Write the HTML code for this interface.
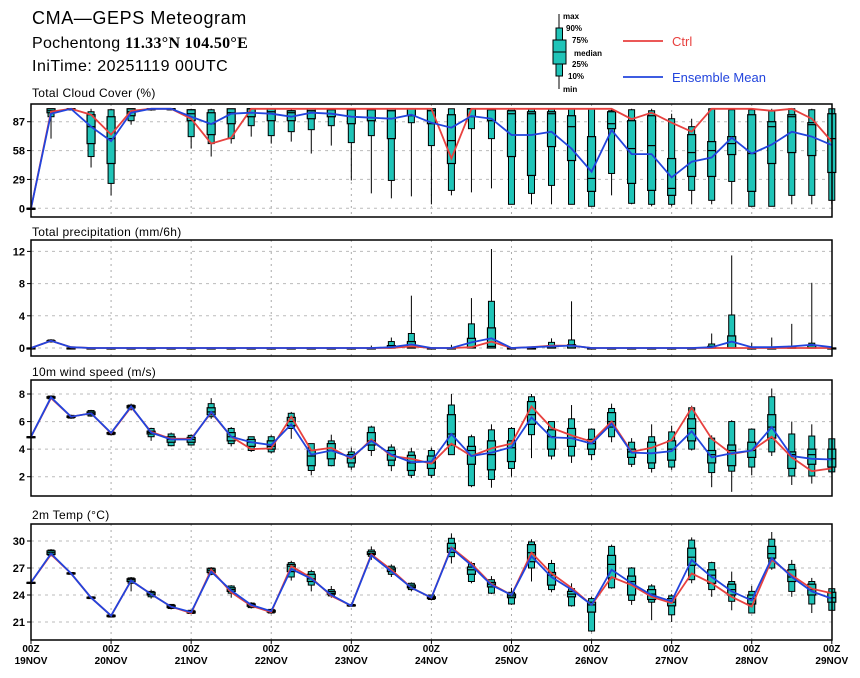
<!DOCTYPE html>
<html><head><meta charset="utf-8"><style>
html,body{margin:0;padding:0;background:#fff;}
svg{display:block;font-family:"Liberation Sans",sans-serif;}
</style></head><body>
<svg id="chart" width="860" height="678" viewBox="0 0 860 678">
<text x="32" y="24" font-size="18" letter-spacing="0.6">CMA—GEPS Meteogram</text>
<text x="32" y="48" font-size="16" letter-spacing="0.3">Pochentong <tspan font-weight="bold" font-family="Liberation Serif, serif">11.33°N 104.50°E</tspan></text>
<text x="32" y="71" font-size="16" letter-spacing="0.5">IniTime: 20251119 00UTC</text>
<g>
 <line x1="559" y1="14" x2="559" y2="89" stroke="#000" stroke-width="1"/>
 <rect x="556" y="28" width="6.5" height="48" fill="#20c4b8" stroke="#000"/>
 <rect x="553" y="40" width="13" height="24" fill="#20c4b8" stroke="#000"/>
 <line x1="553" y1="52" x2="566" y2="52" stroke="#000"/>
 <g font-size="8" font-weight="bold">
 <text x="563" y="19">max</text><text x="566" y="31">90%</text><text x="572" y="43">75%</text>
 <text x="574" y="56">median</text><text x="572" y="67">25%</text><text x="568" y="79">10%</text><text x="563" y="92">min</text>
 </g>
 <line x1="623" y1="41" x2="663" y2="41" stroke="#e8413f" stroke-width="1.8"/>
 <text x="672" y="46" font-size="13" fill="#e8413f">Ctrl</text>
 <line x1="623" y1="77" x2="663" y2="77" stroke="#2244dd" stroke-width="1.8"/>
 <text x="672" y="82" font-size="13" fill="#2244dd">Ensemble Mean</text>
</g>
</svg>
<script>
// ---------- data ----------
const dayLabels = ["19NOV","20NOV","21NOV","22NOV","23NOV","24NOV","25NOV","26NOV","27NOV","28NOV","29NOV"];

const cloudTicks = [0,29,58,87];
const cloudCtrl = [0,97,100,94,74,98,100,100,90,65,71,100,100,100,100,100,100,100,100,100,100,50,100,100,100,100,100,100,100,100,89.6,96,86,77,100,100,100,98,100,90,67];
const cloudMean = [0,95,100,82,67.5,96,100,100,92,84.6,95,96,95,92,96,95,92,91,90,94,86,81,92.7,90,73.6,73.6,77,60,36.8,78.6,54.5,54.5,31,46.8,51,70.9,55,64,77,72,63.5];
const cloudMin = [0,70,99,41,13,84,98,100,60,52,65,72,65,67,55,63,28,15,10,12,4,13,16,20,4,4,4,4,2,13,4,2,2,4,4,4,2,2,4,4,4];
const cloudQ10 = [0,92,100,52,25,88,100,100,72,65,70,83,73,77,79,83,66,73,28,86,63,18,80,70,4,15,23,4,2,35,5,4,4,18,8,27,2,2,13,13,8];
const cloudQ25 = [0,96,100,65,45,93,100,100,88,74,85,92,88,88,90,92,85,88,70,93,85,45,92,88,52,33,62,48,17,80,25,18,13,32,32,54,17,45,56,53,36];
const cloudMed = [0,98,100,82,70,97,100,100,95,85,96,100,97,96,98,99,99,99,98,100,98,68,100,99,95,95,95,82,30,85,60,63,20,56,58,65,55,82,92,84,70];
const cloudQ75 = [0,100,100,94,92,100,100,100,99,96,100,100,100,98,100,100,100,100,100,100,100,94,100,100,98,97,97,93,72,97,88,93,50,74,67,72,94,87,94,86,95];
const cloudQ90 = [0,100,100,97,99,100,100,100,99,99,99,99,99,98,99,99,99,99,99,99,99,100,100,100,100,100,100,100,100,98,99,98,90,82,100,99,99,98,100,99,100];
const cloudMax = [0,100,100,100,100,100,100,100,100,100,100,100,100,100,100,100,100,100,100,100,100,100,100,100,100,100,100,100,100,100,100,100,95,90,100,100,100,100,100,100,100];

const precTicks = [0,4,8,12];
const precCtrl = [0,0.9,0.1,0,0,0,0,0,0,0,0,0,0,0,0,0,0,0,0,0.2,0,0,0.1,0.8,0,0.1,0.3,0.3,0,0,0,0,0,0,0,0,0,0,0,0,0];
const precMean = [0,0.9,0.1,0,0,0,0,0,0,0,0,0,0,0,0,0,0,0,0.1,0.45,0,0,0.7,1.2,0,0.1,0.2,0.3,0,0,0,0,0,0,0.1,0.8,0.1,0.1,0.2,0.4,0.1];
const precMin = [0,0.7,0,0,0,0,0,0,0,0,0,0,0,0,0,0,0,0,0,0,0,0,0,0,0,0,0,0,0,0,0,0,0,0,0,0,0,0,0,0,0];
const precQ10 = [0,0.75,0,0,0,0,0,0,0,0,0,0,0,0,0,0,0,0,0,0,0,0,0,0,0,0,0,0,0,0,0,0,0,0,0,0,0,0,0,0,0];
const precQ25 = [0,0.8,0,0,0,0,0,0,0,0,0,0,0,0,0,0,0,0,0,0,0,0,0,0,0,0,0,0,0,0,0,0,0,0,0,0,0,0,0,0,0];
const precMed = [0,0.85,0,0,0,0,0,0,0,0,0,0,0,0,0,0,0,0,0,0,0,0,0.1,0.2,0,0,0,0,0,0,0,0,0,0,0,0,0,0,0,0,0];
const precQ75 = [0,0.9,0,0,0,0,0,0,0,0,0,0,0,0,0,0,0,0,0.3,0.8,0,0,1.2,2.5,0,0,0.3,0.4,0,0,0,0,0,0,0.2,1.5,0,0,0.1,0.3,0];
const precQ90 = [0,1.0,0,0,0,0,0,0,0,0,0,0,0,0,0,0,0,0,0.8,1.8,0,0,3.0,5.8,0,0,0.7,1.0,0,0,0,0,0,0,0.5,4.1,0.1,0,0.2,0.6,0];
const precMax = [0,1.1,0.1,0,0,0,0,0,0,0,0,0,0,0,0,0,0,0.3,1.3,6.5,0,0.4,6.2,12.3,0,0.1,1.2,5.8,0,0,0.1,0.1,0,0,1.8,11.5,0.6,1.3,3.0,8.1,0.2];

const windTicks = [2,4,6,8];
const windCtrl = [4.9,7.7,6.35,6.6,5.15,7.05,5.25,4.75,4.75,6.65,4.9,4.0,4.05,6.35,3.9,4.1,3.3,4.7,3.5,3.3,2.95,4.4,3.5,4.05,4.4,7.1,5.55,5.0,4.55,6.0,3.8,4.1,4.65,7.0,4.75,3.65,3.9,4.9,3.4,2.4,2.6];
const windMean = [4.9,7.76,6.35,6.6,5.18,7.1,5.2,4.7,4.7,6.7,4.9,4.5,4.3,5.8,3.6,3.9,3.4,4.6,3.6,3.05,3.1,5.1,3.5,3.75,4.15,6.3,4.85,4.8,4.4,5.85,3.75,3.7,3.85,5.3,3.4,3.7,3.9,5.6,3.5,3.3,3.25];
const windMin = [4.9,7.6,6.2,6.35,5.0,6.8,4.6,4.2,4.25,6.2,4.2,3.8,3.7,4.75,2.1,2.75,2.5,3.5,2.4,1.9,1.9,3.6,1.24,1.2,2.0,3.35,3.25,3.0,3.2,4.5,2.7,2.3,2.5,3.9,1.24,0.9,2.1,3.5,1.4,1.5,2.2];
const windQ10 = [4.9,7.65,6.25,6.4,5.05,6.9,4.9,4.25,4.3,6.35,4.4,3.9,3.8,5.5,2.45,2.8,2.7,3.9,2.8,2.1,2.1,3.6,1.35,1.8,2.6,5.05,3.5,3.5,3.6,4.9,2.9,2.6,2.7,4.0,2.3,2.4,2.7,3.8,2.05,2.05,2.35];
const windQ25 = [4.9,7.7,6.3,6.5,5.1,7.0,5.1,4.5,4.5,6.5,4.6,4.2,4.0,5.7,2.8,3.3,3.0,4.3,3.2,2.45,2.6,4.3,2.9,2.5,3.1,5.8,4.0,4.2,4.0,5.6,3.4,3.0,3.2,4.6,3.0,2.8,3.4,4.8,2.6,2.9,2.7];
const windMed = [4.9,7.75,6.35,6.6,5.15,7.1,5.2,4.7,4.7,6.7,4.9,4.5,4.2,6.0,3.5,3.9,3.35,4.6,3.6,3.0,3.0,5.1,3.9,3.6,4.1,6.5,4.9,4.8,4.4,6.0,3.8,3.7,4.0,5.5,3.6,3.9,3.9,5.6,3.6,3.6,3.3];
const windQ75 = [4.9,7.8,6.4,6.7,5.2,7.15,5.3,4.9,4.85,7.0,5.2,4.7,4.6,6.3,3.9,4.4,3.6,5.2,3.9,3.55,3.5,6.5,4.2,4.6,4.6,7.45,5.4,5.5,4.7,6.65,4.0,4.5,4.6,6.2,3.9,4.3,4.5,6.5,3.8,4.0,4.0];
const windQ90 = [4.9,7.85,6.45,6.8,5.25,7.2,5.5,5.1,5.0,7.3,5.5,4.9,4.9,6.6,4.4,4.6,3.8,5.6,4.15,3.8,3.9,7.2,4.9,5.4,5.5,7.8,6.0,6.2,5.45,6.95,4.5,4.9,5.25,7.0,4.8,6.0,5.45,7.8,5.1,4.95,4.75];
const windMax = [4.9,7.9,6.5,6.85,5.3,7.3,5.55,5.2,5.05,7.7,5.6,4.9,5.0,6.7,4.4,5.05,4.1,5.7,4.35,4.1,4.1,8.0,5.05,5.8,5.6,8.0,6.0,7.2,5.5,7.3,4.8,5.8,5.7,7.15,5.0,6.1,5.5,8.4,6.0,5.8,4.8];

const tempTicks = [21,24,27,30];
const tempCtrl = [25.4,28.5,26.4,23.7,21.7,25.6,24.1,22.7,22.0,26.8,24.3,22.8,22.1,27.2,25.9,23.9,22.8,28.5,26.8,24.8,23.7,29.3,27.5,25.2,24.0,28.7,26.4,24.8,22.9,26.0,25.1,23.8,23.1,26.4,25.3,23.8,22.7,27.9,26.2,24.7,24.2];
const tempMean = [25.4,28.6,26.4,23.7,21.7,25.6,24.1,22.7,22.1,26.6,24.5,22.9,22.2,26.9,25.8,24.0,22.8,28.4,26.6,24.8,23.7,29.2,27.3,25.1,24.0,28.3,26.0,24.6,22.9,26.8,25.3,24.0,23.3,27.9,26.0,24.4,23.4,28.1,26.0,24.4,23.6];
const tempMin = [25.4,28.3,26.3,23.6,21.5,24.4,23.6,22.4,21.9,26.2,23.7,22.5,21.9,25.6,24.4,23.7,22.7,27.9,26.0,24.4,23.4,27.5,25.3,24.1,22.9,25.5,24.3,22.7,19.9,24.7,22.9,21.2,21.0,25.3,23.8,22.3,22.0,26.8,23.8,22.0,22.3];
const tempQ10 = [25.4,28.4,26.3,23.6,21.55,25.3,23.8,22.5,21.95,26.3,24.2,22.6,22.0,26.0,25.1,23.9,22.75,28.3,26.3,24.6,23.5,28.26,25.5,24.2,23.0,27.0,24.6,22.8,20.0,24.8,23.4,23.2,21.8,25.7,24.6,23.3,22.0,27.0,24.4,23.0,22.3];
const tempQ25 = [25.4,28.5,26.35,23.65,21.6,25.5,24.0,22.6,22.0,26.5,24.4,22.75,22.1,26.6,25.5,24.1,22.8,28.5,26.6,24.8,23.6,28.74,26.3,24.9,23.7,27.7,25.1,23.8,22.1,25.9,24.0,23.5,22.8,27.3,25.3,24.0,23.0,28.1,25.5,24.0,23.2];
const tempMed = [25.4,28.7,26.4,23.7,21.7,25.7,24.1,22.7,22.1,26.7,24.6,22.9,22.2,27.2,25.8,24.2,22.85,28.6,26.8,24.9,23.7,29.2,26.8,25.2,23.9,28.7,26.2,24.1,22.9,27.4,25.5,24.1,23.2,28.2,26.2,24.6,23.6,28.6,26.0,24.6,23.7];
const tempQ75 = [25.4,28.9,26.45,23.75,21.75,25.8,24.3,22.85,22.2,26.9,24.8,23.0,22.3,27.4,26.3,24.4,22.9,28.8,27.0,25.1,23.8,29.74,27.1,25.4,24.1,29.6,26.5,24.4,23.2,28.4,26.1,24.6,23.6,29.2,26.8,25.2,24.0,29.4,26.8,25.2,24.3];
const tempQ90 = [25.4,29.0,26.5,23.8,21.8,25.9,24.4,22.95,22.3,27.0,25.0,23.1,22.4,27.6,26.6,24.6,22.95,29.0,27.2,25.3,24.0,30.3,27.5,25.7,24.3,29.9,27.5,24.7,23.6,29.4,27.0,25.0,23.9,30.1,27.6,25.5,24.4,30.2,27.4,25.5,24.7];
const tempMax = [25.4,29.1,26.5,23.8,21.85,26.0,24.6,23.0,22.3,27.1,25.1,23.2,22.4,27.8,26.8,25.0,23.0,29.4,27.4,25.4,24.0,30.85,27.7,26.1,24.8,30.2,27.9,25.3,23.8,29.6,27.1,25.2,24.1,30.4,27.7,26.6,25.0,31.0,27.9,25.9,24.7];

// ---------- drawing ----------
const NS = "http://www.w3.org/2000/svg";
const svg = document.getElementById("chart");
const X0 = 31, DX = 20.02, XR = 832;
function xAt(i){ return X0 + i*DX; }
function mk(tag, attrs, parent){
  const e = document.createElementNS(NS, tag);
  for (const k in attrs) e.setAttribute(k, attrs[k]);
  (parent||svg).appendChild(e);
  return e;
}
function yScale(v0, y0, v1, y1){ return v => y0 + (v - v0) * (y1 - y0) / (v1 - v0); }

const panels = [
  {name:"cloud", title:"Total Cloud Cover (%)", ty:97, top:104, bot:217, y:yScale(0,208.3,87,121.7), ticks:cloudTicks,
   ctrl:cloudCtrl, mean:cloudMean, mn:cloudMin, q10:cloudQ10, q25:cloudQ25, med:cloudMed, q75:cloudQ75, q90:cloudQ90, mx:cloudMax},
  {name:"precip", title:"Total precipitation (mm/6h)", ty:236, top:240, bot:356, y:yScale(0,348,12,251.4), ticks:precTicks,
   ctrl:precCtrl, mean:precMean, mn:precMin, q10:precQ10, q25:precQ25, med:precMed, q75:precQ75, q90:precQ90, mx:precMax},
  {name:"wind", title:"10m wind speed (m/s)", ty:376, top:380, bot:496, y:yScale(8,394,2,476.7), ticks:windTicks,
   ctrl:windCtrl, mean:windMean, mn:windMin, q10:windQ10, q25:windQ25, med:windMed, q75:windQ75, q90:windQ90, mx:windMax},
  {name:"temp", title:"2m Temp (°C)", ty:519, top:524, bot:640, y:yScale(30,541,21,622), ticks:tempTicks,
   ctrl:tempCtrl, mean:tempMean, mn:tempMin, q10:tempQ10, q25:tempQ25, med:tempMed, q75:tempQ75, q90:tempQ90, mx:tempMax}
];

panels.forEach(p => {
  const g = mk("g", {});
  
  
  const t = mk("text", {x:32, y:p.ty, "font-size":12, "letter-spacing":0.3}, g);
  t.textContent = p.title;
  
  
  for (let d = 1; d < dayLabels.length - 1; d++) {
    const gx = xAt(d*4);
    const gl = mk("line", {x1:gx, x2:gx, y1:p.top, y2:p.bot, stroke:"#aaa", "stroke-width":1, "stroke-dasharray":"2,4"}, g);
    
    
  }
  p.ticks.forEach(v => {
    const yy = p.y(v);
    const hl = mk("line", {x1:X0, x2:XR, y1:yy, y2:yy, stroke:"#bbb", "stroke-width":1, "stroke-dasharray":"3,4"}, g);
    
    
    mk("line", {x1:X0-4, x2:X0, y1:yy, y2:yy, stroke:"#000"}, g);
    const tl = mk("text", {x:25, y:yy+4, "font-size":11, "font-weight":"bold", "text-anchor":"end"}, g);
    tl.textContent = String(v);
    
    
  });
  for (let i = 0; i < p.mean.length; i++) {
    const cx = xAt(i);
    const bg = mk("g", {}, g);
    
    
    mk("line", {x1:cx, x2:cx, y1:p.y(p.mx[i]), y2:p.y(p.mn[i]), stroke:"#000", "stroke-width":1}, bg);
    const o1 = p.y(p.q90[i]), o2 = p.y(p.q10[i]);
    mk("rect", {x:cx-3, y:o1, width:6, height:Math.max(1,o2-o1), fill:"#20c4b8", stroke:"#000", "stroke-width":1}, bg);
    const i1 = p.y(p.q75[i]), i2 = p.y(p.q25[i]);
    mk("rect", {x:cx-4, y:i1, width:8, height:Math.max(1,i2-i1), fill:"#20c4b8", stroke:"#000", "stroke-width":1.2}, bg);
    const my = p.y(p.med[i]);
    mk("line", {x1:cx-4, x2:cx+4, y1:my, y2:my, stroke:"#000", "stroke-width":1.2}, bg);
  }
  const pts = arr => arr.map((v,i) => xAt(i).toFixed(1) + "," + p.y(v).toFixed(1)).join(" ");
  const cl = mk("polyline", {points:pts(p.ctrl), fill:"none", stroke:"#e8413f", "stroke-width":1.8}, g);
  
  
  const ml = mk("polyline", {points:pts(p.mean), fill:"none", stroke:"#2244dd", "stroke-width":1.8}, g);
  
  
  const fr = mk("rect", {x:X0, y:p.top, width:XR-X0, height:p.bot-p.top, fill:"none", stroke:"#000", "stroke-width":1.5}, g);
  
  
});

dayLabels.forEach((lab, d) => {
  const cx = xAt(d*4);
  mk("line", {x1:cx, x2:cx, y1:640, y2:644, stroke:"#000"});
  const t1 = mk("text", {x:cx, y:652, "font-size":10, "font-weight":"bold", "text-anchor":"middle"});
  t1.textContent = "00Z";
  
  
  const t2 = mk("text", {x:cx, y:664, "font-size":10, "font-weight":"bold", "text-anchor":"middle"});
  t2.textContent = lab;
  
  
});
</script>
</body></html>
